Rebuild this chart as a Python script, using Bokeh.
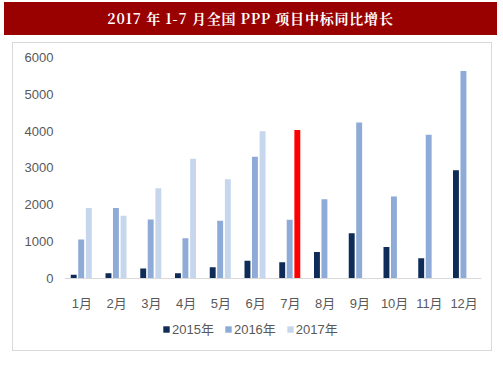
from bokeh.plotting import figure
from bokeh.models import (ColumnDataSource, FixedTicker, Legend, LegendItem, Div, Range1d)
from bokeh.transform import dodge
from bokeh.layouts import column
from bokeh.embed import file_html
from bokeh.resources import INLINE

title_text = "2017 年 1-7 月全国 PPP 项目中标同比增长"
months = ["1月", "2月", "3月", "4月", "5月", "6月", "7月", "8月", "9月", "10月", "11月", "12月"]
v2015 = [90, 130, 260, 130, 295, 470, 430, 710, 1220, 845, 535, 2935]
v2016 = [1045, 1905, 1595, 1080, 1560, 3300, 1585, 2145, 4230, 2215, 3895, 5635]
months2017 = months[:7]
v2017 = [1905, 1695, 2445, 3245, 2690, 3990, 4030]
y_ticks = [0, 1000, 2000, 3000, 4000, 5000, 6000]

c2015 = "#0f2b57"
c2016 = "#8eaad6"
c2017 = "#c6d6ec"
c_hl = "#ff0000"
colors2017 = [c2017] * 6 + [c_hl]

FONT = "Liberation Sans, Noto Sans CJK SC"
GRAY = "#595959"

src = ColumnDataSource(dict(m=months, v15=v2015, v16=v2016))
src17 = ColumnDataSource(dict(m=months2017, v=v2017, c=colors2017))

# frame spans from the 6000 line down to the box bottom; the legend sits inside it, below the axis
p = figure(x_range=months, y_range=Range1d(-2027, 6000),
           frame_width=415, frame_height=293,
           output_backend="svg", toolbar_location=None,
           min_border_left=51, min_border_right=12, min_border_top=14, min_border_bottom=0,
           margin=(7, 0, 0, 12), styles={"border": "1px solid #d9d9d9"})
p.outline_line_color = None
p.xgrid.grid_line_color = None
p.ygrid.grid_line_color = None

w = 0.17
r15 = p.vbar(x=dodge("m", -0.235, range=p.x_range), top="v15", width=w, source=src,
             color=c2015, line_color=None)
r16 = p.vbar(x=dodge("m", -0.02, range=p.x_range), top="v16", width=w, source=src,
             color=c2016, line_color=None)
r17 = p.vbar(x=dodge("m", 0.2, range=p.x_range), top="v", width=w, source=src17,
             fill_color="c", line_color=None)

p.yaxis.ticker = FixedTicker(ticks=y_ticks)
p.yaxis.axis_line_color = None
p.yaxis.major_tick_line_color = None
p.yaxis.minor_tick_line_color = None
p.yaxis.major_label_text_color = GRAY
p.yaxis.major_label_text_font = FONT
p.yaxis.major_label_text_font_size = "13px"
p.yaxis.major_label_standoff = 5

p.xaxis.fixed_location = 0
p.xaxis.axis_line_color = "#d9d9d9"
p.xaxis.major_tick_line_color = None
p.xaxis.minor_tick_line_color = None
p.xaxis.major_label_text_color = GRAY
p.xaxis.major_label_text_font = FONT
p.xaxis.major_label_text_font_size = "13px"
p.xaxis.major_label_standoff = 12
p.x_range.range_padding = 0.0

legend = Legend(items=[LegendItem(label="2015年", renderers=[r15]),
                       LegendItem(label="2016年", renderers=[r16]),
                       LegendItem(label="2017年", renderers=[r17], index=0)],
                orientation="horizontal", location=(98, 14),
                label_text_font=FONT, label_text_font_size="13px", label_text_color=GRAY,
                glyph_width=8, glyph_height=8, spacing=10, label_standoff=2,
                label_height=14, border_line_color=None, background_fill_alpha=0,
                padding=4, margin=0)
p.add_layout(legend, "center")

title = Div(text=title_text, width=493, height=33, margin=(2, 0, 0, 4),
            styles={"background-color": "#990000", "color": "white", "font-weight": "bold",
                    "text-align": "center", "line-height": "33px", "font-size": "14px",
                    "letter-spacing": "0.8px",
                    "font-family": "'Noto Serif CJK SC', 'Noto Sans CJK SC', serif",
                    "width": "493px"})

layout = column(title, p, spacing=0)
open("out.html", "w").write(file_html(layout, INLINE))
